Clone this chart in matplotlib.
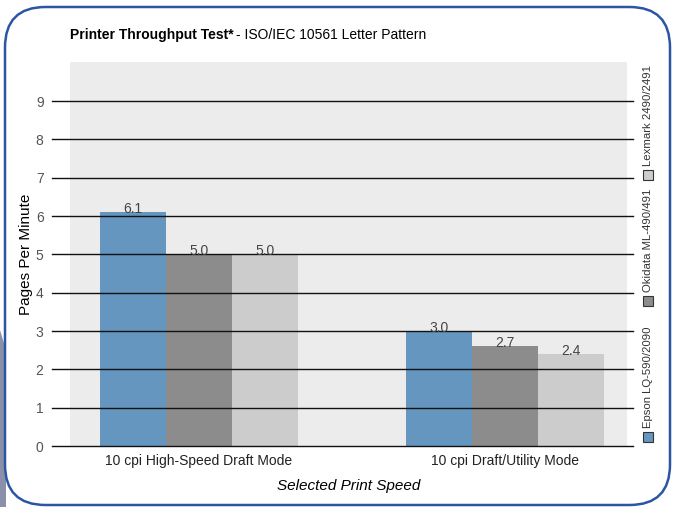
import matplotlib.pyplot as plt
from matplotlib.patches import FancyBboxPatch, Rectangle, Polygon
from matplotlib.transforms import offset_copy

plt.rcParams['font.family'] = ['Liberation Sans', 'DejaVu Sans']

# data
modes = ['10 cpi High-Speed Draft Mode', '10 cpi Draft/Utility Mode']
printers = ['Epson LQ-590/2090', 'Okidata ML-490/491', 'Lexmark 2490/2491']
epson = [6.1, 3.0]
okidata = [5.0, 2.6]
lexmark = [5.0, 2.4]
value_labels = [['6.1', '3.0'], ['5.0', '2.7'], ['5.0', '2.4']]
colors = ['#6496c0', '#8c8c8c', '#cccccc']

W, H = 675, 507
fig = plt.figure(figsize=(W / 100, H / 100), dpi=100)
fig.patch.set_facecolor('white')

def fx(px):
    return px / W

def fy(py):
    return 1 - py / H

# backdrop piece on the left and rounded frame
fig.patches.append(Polygon([(fx(0), fy(330)), (fx(6), fy(350)), (fx(6), fy(507)), (fx(0), fy(507))],
                           closed=True, transform=fig.transFigure, facecolor='#8a90a8',
                           edgecolor='none', zorder=0))
fig.patches.append(FancyBboxPatch((fx(5), fy(505)), fx(665), 498 / H,
                                  boxstyle='round,pad=0,rounding_size=0.06',
                                  transform=fig.transFigure, facecolor='white',
                                  edgecolor='#2c55a3', linewidth=1.8, zorder=1,
                                  mutation_aspect=W / H))

ax = fig.add_axes([fx(70), fy(446), fx(627) - fx(70), (446 - 62) / H])
ax.set_facecolor('#ececec')
ax.set_zorder(2)

series = [epson, okidata, lexmark]
width = 0.2157
pos = [0, 1]
for i, vals in enumerate(series):
    xs = [p + (i - 1) * width for p in pos]
    ax.bar(xs, vals, width=width, color=colors[i], zorder=2)
    for x, v, lab in zip(xs, vals, value_labels[i]):
        ax.text(x, v, lab, ha='center', va='bottom', fontsize=10, color='#444444',
                zorder=4, transform=offset_copy(ax.transData, fig=fig, y=-4, units='dots'))

ax.set_xlim(-0.4215, 1.399)
ax.set_ylim(0, 10.02)

# horizontal rules reaching past the plot area
for y in range(10):
    ax.plot([-0.033, 1.011], [y, y], color='#111111', lw=1.0,
            transform=ax.get_yaxis_transform(), clip_on=False, zorder=3)

for s in ax.spines.values():
    s.set_visible(False)
ax.set_yticks(range(10))
ax.set_yticklabels([str(i) for i in range(10)], color='#555555', fontsize=10)
ax.tick_params(axis='y', length=0, pad=19)
ax.set_xticks(pos)
ax.set_xticklabels(modes, fontsize=10, color='#222222')
ax.tick_params(axis='x', length=0, pad=6)
ax.set_ylabel('Pages Per Minute', fontsize=11)
ax.yaxis.set_label_coords(-0.066, 0.5)
ax.set_xlabel('Selected Print Speed', fontsize=11, style='italic', labelpad=8)

# title
t = fig.text(fx(70), fy(35), 'Printer Throughput Test*', fontsize=10, weight='bold',
             va='center', ha='left')
fig.canvas.draw()
bb = t.get_window_extent()
fig.text(bb.x1 / W + 0.004, fy(35), '- ISO/IEC 10561 Letter Pattern', fontsize=10,
         va='center', ha='left')

# vertical legend on the right
legend_y = [442, 306, 180]
for name, c, py in zip(printers, colors, legend_y):
    fig.patches.append(Rectangle((fx(643), fy(py)), fx(10), 10 / H, transform=fig.transFigure,
                                 facecolor=c, edgecolor='#333333', linewidth=0.8, zorder=3))
    fig.text(fx(648), fy(py - 14), name, rotation=90, fontsize=8.2, color='#333333',
             ha='center', va='bottom', zorder=3)

fig.savefig('out.png', dpi=100)
